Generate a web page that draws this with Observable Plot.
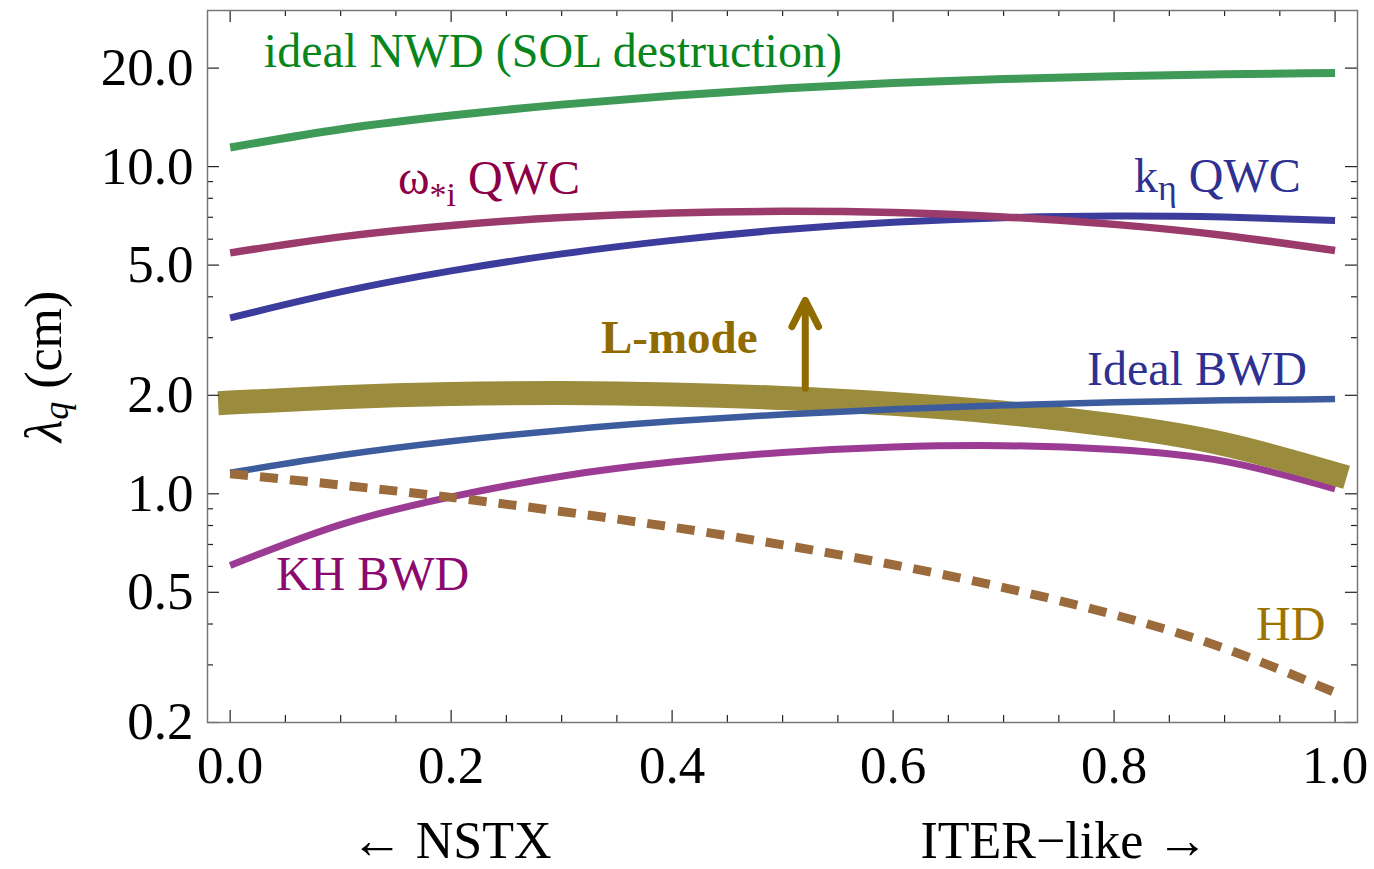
<!DOCTYPE html>
<html><head><meta charset="utf-8">
<script src="https://cdn.jsdelivr.net/npm/d3@7"></script>
<script src="https://cdn.jsdelivr.net/npm/@observablehq/plot@0.6"></script>
<style>body{margin:0;background:#fff}</style>
</head><body><div id="chart"></div>
<script>
// ---- data ----
const xs = [0, 0.1, 0.2, 0.3, 0.4, 0.5, 0.6, 0.7, 0.8, 0.9, 1.0];
const idealNWD = [11.44, 13.01, 14.33, 15.47, 16.46, 17.32, 18.01, 18.51, 18.89, 19.16, 19.33];
const kEtaQWC  = [3.45, 4.14, 4.80, 5.41, 5.95, 6.41, 6.76, 6.98, 7.06, 7.01, 6.84];
const omegaQWC = [5.45, 6.10, 6.61, 6.99, 7.22, 7.30, 7.24, 7.02, 6.66, 6.16, 5.54];
const khBWD    = [0.604, 0.805, 0.979, 1.132, 1.250, 1.337, 1.390, 1.403, 1.365, 1.256, 1.035];
const lMode    = [1.900, 1.972, 2.018, 2.032, 2.013, 1.963, 1.883, 1.769, 1.618, 1.418, 1.150];
const idealBWD = [1.160, 1.311, 1.447, 1.565, 1.665, 1.748, 1.813, 1.864, 1.903, 1.930, 1.948];
const hdValues = [1.151, 1.064, 0.975, 0.883, 0.791, 0.698, 0.607, 0.517, 0.427, 0.337, 0.247];

const labelText  = ["ideal NWD (SOL destruction)", "ω*i QWC", "kη QWC", "L-mode", "Ideal BWD", "KH BWD", "HD"];
const labelX     = [0.0305, 0.1518, 0.818, 0.3356, 0.7755, 0.0414, 0.9285];
const labelY     = [20.1, 8.27, 8.35, 2.69, 2.154, 0.508, 0.358];

const arrowX = 0.5205, arrowFrom = 2.1, arrowTo = 3.9;

const xMajor = [0, 0.2, 0.4, 0.6, 0.8, 1.0];
const xMinor = [0.05, 0.1, 0.15, 0.25, 0.3, 0.35, 0.45, 0.5, 0.55, 0.65, 0.7, 0.75, 0.85, 0.9, 0.95];
const yMajor = [0.2, 0.5, 1, 2, 5, 10, 20];
const yMinor = [0.3, 0.4, 0.6, 0.7, 0.8, 0.9, 3, 4, 6, 7, 8, 9];

const yLabel = "λq (cm)";
const xNotes = ["← NSTX", "ITER−like →"];
const xNoteX = [0.2, 0.755];

// ---- layout / style ----
const W = 1374, H = 869, mL = 207, mR = 17, mT = 10, mB = 147;
const FW = W - mL - mR, FH = H - mT - mB;
const FONT = "'Liberation Serif', 'Times New Roman', Times, serif";
const labelColor = ["#06861c", "#8c0046", "#2e3192", "#8f6b00", "#2e3192", "#8c0a6e", "#9c7300"];

const rows = v => xs.map((x, i) => ({x, y: v[i]}));
const lineMark = (v, stroke, strokeWidth, extra = {}) =>
  Plot.line(rows(v), {x: "x", y: "y", stroke, strokeWidth, curve: "natural", strokeLinecap: "butt", ...extra});

const tickColor = "#222";
const marks = [
  lineMark(idealNWD, "#3f9a58", 8),
  lineMark(kEtaQWC, "#3b3c9b", 7),
  lineMark(omegaQWC, "#9b3b6c", 7.5),
  lineMark(khBWD, "#9c3b93", 7),
  lineMark(lMode, "#9b8b3d", 24, {strokeLinecap: "square"}),
  lineMark(idealBWD, "#3d5c9d", 6.5),
  lineMark(hdValues, "#9b6b3c", 9, {strokeDasharray: "18,12"}),
  Plot.arrow([0], {x1: () => arrowX, x2: () => arrowX, y1: () => arrowFrom, y2: () => arrowTo,
    stroke: "#8f6b00", strokeWidth: 7, headLength: 20, headAngle: 54, strokeLinecap: "round", strokeLinejoin: "round"}),
  // frame ticks
  Plot.tickX(xMajor, {x: d => d, insetBottom: FH - 12, stroke: tickColor, strokeWidth: 1.2}),
  Plot.tickX(xMajor, {x: d => d, insetTop: FH - 12, stroke: tickColor, strokeWidth: 1.2}),
  Plot.tickX(xMinor, {x: d => d, insetBottom: FH - 6, stroke: tickColor, strokeWidth: 1.2}),
  Plot.tickX(xMinor, {x: d => d, insetTop: FH - 7, stroke: tickColor, strokeWidth: 1.2}),
  Plot.tickY(yMajor, {y: d => d, insetRight: FW - 12, stroke: tickColor, strokeWidth: 1.2}),
  Plot.tickY(yMajor, {y: d => d, insetLeft: FW - 12, stroke: tickColor, strokeWidth: 1.2}),
  Plot.tickY(yMinor, {y: d => d, insetRight: FW - 6, stroke: tickColor, strokeWidth: 1.2}),
  Plot.tickY(yMinor, {y: d => d, insetLeft: FW - 6, stroke: tickColor, strokeWidth: 1.2}),
  Plot.frame({stroke: "#777", strokeWidth: 1.5}),
  Plot.axisY(yMajor, {anchor: "left", tickSize: 0, tickPadding: 14, fontSize: 53, tickFormat: d => d.toFixed(1), label: null, fill: "#000"}),
  Plot.axisX(xMajor, {anchor: "bottom", tickSize: 0, tickPadding: 23, fontSize: 53, tickFormat: d => d.toFixed(1), label: null, fill: "#000"}),
  Plot.text([yLabel], {text: d => d, frameAnchor: "left", dx: 60 - mL, rotate: -90, textAnchor: "middle", lineAnchor: "bottom", fontSize: 52, fill: "#000"}),
  Plot.text(xNotes, {text: d => d, x: (d, i) => xNoteX[i], frameAnchor: "bottom", dy: 135, textAnchor: "middle", lineAnchor: "bottom", fontSize: 52, fill: "#000"})
];
labelText.forEach((t, i) => {
  marks.push(Plot.text([t], {text: d => d, x: () => labelX[i], y: () => labelY[i], textAnchor: "start", lineAnchor: "bottom",
    fontSize: i === 3 ? 47 : 48, fontWeight: i === 3 ? "bold" : "normal", fill: labelColor[i]}));
});

const chart = Plot.plot({
  width: W, height: H,
  marginLeft: mL, marginRight: mR, marginTop: mT, marginBottom: mB,
  x: {domain: [-0.0205, 1.0203]},
  y: {type: "log", domain: [0.2, 30]},
  style: {background: "#fff", fontFamily: FONT, color: "#000"},
  marks
});
document.getElementById("chart").appendChild(chart);

// ---- rich text (subscripts) ----
const rich = {
  "ω*i QWC": [["ω"], ["*i", 34, 12], [" QWC"]],
  "kη QWC": [["k"], ["η", 36, 8], [" QWC"]],
  "λq (cm)": [["λ", null, 0, true], ["q", 36, 7, true], [" (cm)"]]
};
d3.select(chart).selectAll("text").each(function() {
  const t = this.textContent;
  if (!(t in rich)) return;
  const el = d3.select(this);
  el.text(null);
  let shift = 0;
  rich[t].forEach(([s, size, dy, it]) => {
    const ts = el.append("tspan").text(s);
    const target = dy || 0;
    if (target !== shift) { ts.attr("dy", target - shift); shift = target; }
    if (size) ts.attr("font-size", size);
    if (it) ts.attr("font-style", "italic");
  });
});
</script>
</body></html>
